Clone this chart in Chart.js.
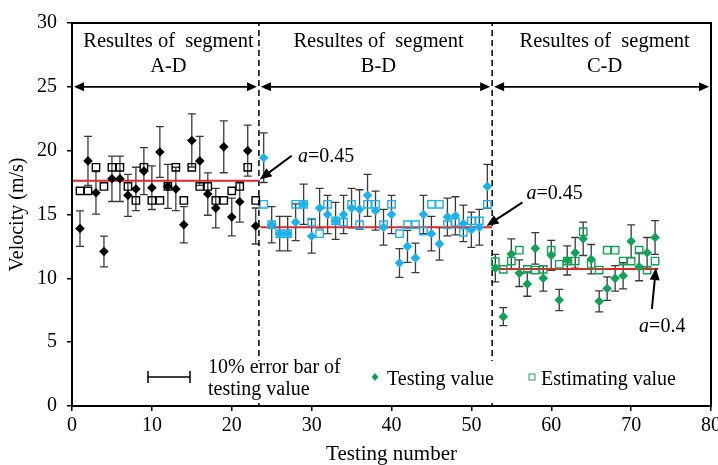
<!DOCTYPE html>
<html>
<head>
<meta charset="utf-8">
<script src="https://cdn.jsdelivr.net/npm/chart.js@4.4.0/dist/chart.umd.min.js"></script>
<style>
  html, body { margin: 0; padding: 0; background: #fff; }
</style>
</head>
<body>
<canvas id="velocity-chart" width="718" height="465"></canvas>
<script>
// segment A-D : tests 1-23
const testingA = [13.9, 19.2, 16.7, 12.1, 17.8, 17.8, 16.5, 17.0, 18.4, 17.1, 19.9, 17.2, 17.0, 14.2, 20.8, 19.2, 16.6, 15.5, 20.3, 14.8, 16.0, 20.0, 14.1];
const estimatingA = [16.85, 16.85, 18.7, 17.2, 18.7, 18.7, 17.2, 16.1, 18.7, 16.1, 16.1, 17.2, 18.7, 16.1, 18.7, 17.2, 17.2, 16.1, 16.1, 16.85, 17.2, 18.7, 16.1];
// segment B-D : tests 24-52
const testingB = [19.45, 14.2, 13.5, 13.5, 14.4, 15.8, 13.3, 15.5, 15.0, 14.5, 15.0, 15.5, 15.4, 16.5, 15.3, 14.0, 15.0, 11.2, 12.5, 11.6, 15.0, 13.5, 12.7, 14.8, 14.9, 14.3, 13.8, 14.0, 17.2];
const estimatingB = [15.8, 14.2, 13.5, 13.5, 15.8, 15.8, 14.4, 13.5, 15.8, 14.5, 14.4, 15.8, 14.2, 15.8, 15.8, 14.2, 15.8, 13.5, 14.2, 14.2, 13.7, 15.8, 15.8, 14.2, 14.4, 13.6, 14.5, 14.5, 15.8];
// segment C-D : tests 53-73
const testingC = [10.8, 7.0, 11.9, 10.4, 9.55, 12.35, 10.0, 11.8, 8.3, 11.4, 12.0, 13.1, 11.5, 8.2, 9.2, 10.0, 10.2, 12.9, 10.9, 12.0, 13.2];
const estimatingC = [11.3, 10.7, 11.35, 12.2, 10.7, 10.65, 10.7, 12.2, 11.1, 11.35, 11.35, 13.65, 11.1, 10.65, 12.2, 12.2, 11.35, 11.35, 12.2, 10.65, 11.35];

const segmentNames = ['A-D', 'B-D', 'C-D'];
const segmentBounds = [0, 23.4, 52.6, 80];
const meanLevels = [17.65, 14.0, 10.73];
const meanEnds = [[0, 23.4], [23.6, 52.6], [52.6, 73.4]];
const alphaLabels = ['0.45', '0.45', '0.4'];
const errorRatio = 0.1;

const xTicks = [0, 10, 20, 30, 40, 50, 60, 70, 80];
const yTicks = [0, 5, 10, 15, 20, 25, 30];

const FONT = '"Liberation Serif", "Times New Roman", serif';
const BLACK = '#000000';
const BLUE = '#1bb1ec';
const GREEN = '#10a356';
const RED = '#e3262b';

function toPoints(values, start) {
    return values.map((v, i) => ({ x: start + i, y: v }));
}

const segs = [
    { test: toPoints(testingA, 1), est: toPoints(estimatingA, 1), color: BLACK },
    { test: toPoints(testingB, 24), est: toPoints(estimatingB, 24), color: BLUE },
    { test: toPoints(testingC, 53), est: toPoints(estimatingC, 53), color: GREEN },
];

const datasets = [];
segs.forEach((s, i) => {
    datasets.push({
        label: 'Testing ' + segmentNames[i], data: s.test, isTesting: true,
        pointStyle: 'rectRot', pointRadius: 4.8, backgroundColor: s.color, borderColor: s.color,
        borderWidth: 0, order: 1
    });
    datasets.push({
        label: 'Estimating ' + segmentNames[i], data: s.est,
        pointStyle: 'rect', pointRadius: 5.2, backgroundColor: 'rgba(255,255,255,0)', borderColor: s.color,
        borderWidth: 1.4, order: 0
    });
});
meanLevels.forEach((m, i) => {
    datasets.push({
        type: 'line', label: 'mean ' + segmentNames[i],
        data: [{ x: meanEnds[i][0], y: m }, { x: meanEnds[i][1], y: m }],
        borderColor: RED, borderWidth: 2, pointRadius: 0, order: 3
    });
});
[segmentBounds[1], segmentBounds[2]].forEach((b) => {
    datasets.push({
        type: 'line', label: 'bound',
        data: [{ x: b, y: 0 }, { x: b, y: 30 }],
        borderColor: BLACK, borderWidth: 1.5, borderDash: [6, 4], pointRadius: 0, order: 4
    });
});

function arrowHead(ctx, x1, y1, x2, y2, len, half) {
    const a = Math.atan2(y2 - y1, x2 - x1);
    ctx.beginPath();
    ctx.moveTo(x2, y2);
    ctx.lineTo(x2 - len * Math.cos(a) + half * Math.sin(a), y2 - len * Math.sin(a) - half * Math.cos(a));
    ctx.lineTo(x2 - len * Math.cos(a) - half * Math.sin(a), y2 - len * Math.sin(a) + half * Math.cos(a));
    ctx.closePath();
    ctx.fill();
}

function arrow(ctx, x1, y1, x2, y2, w, len, half) {
    const a = Math.atan2(y2 - y1, x2 - x1);
    ctx.lineWidth = w;
    ctx.beginPath();
    ctx.moveTo(x1, y1);
    ctx.lineTo(x2 - (len - 1) * Math.cos(a), y2 - (len - 1) * Math.sin(a));
    ctx.stroke();
    arrowHead(ctx, x1, y1, x2, y2, len, half);
}

function alphaText(ctx, x, y, value) {
    ctx.textBaseline = 'alphabetic';
    ctx.textAlign = 'left';
    ctx.font = 'italic 20px ' + FONT;
    ctx.fillText('a', x, y);
    const w = ctx.measureText('a').width;
    ctx.font = '20px ' + FONT;
    ctx.fillText('=' + value, x + w, y);
}

const decorPlugin = {
    id: 'decor',
    beforeDatasetsDraw(chart) {
        const { ctx, scales: { x, y } } = chart;
        ctx.save();
        ctx.strokeStyle = '#3a3a3a';
        ctx.lineWidth = 1.3;
        chart.data.datasets.forEach((ds) => {
            if (!ds.isTesting) return;
            ds.data.forEach((p) => {
                const px = x.getPixelForValue(p.x);
                const top = y.getPixelForValue(p.y * (1 + errorRatio));
                const bot = y.getPixelForValue(p.y * (1 - errorRatio));
                ctx.beginPath();
                ctx.moveTo(px, top); ctx.lineTo(px, bot);
                ctx.moveTo(px - 4, top); ctx.lineTo(px + 4, top);
                ctx.moveTo(px - 4, bot); ctx.lineTo(px + 4, bot);
                ctx.stroke();
            });
        });
        ctx.restore();
    },
    afterDatasetsDraw(chart) {
        const { ctx, chartArea: area, scales: { x, y } } = chart;
        ctx.save();

        // legend box (white, hides the dashed bounds)
        const ly = area.bottom - 29;
        ctx.fillStyle = '#ffffff';
        ctx.fillRect(area.left + 66, ly - 16, area.right - area.left - 90, 42);

        // frame
        ctx.strokeStyle = BLACK;
        ctx.lineWidth = 2;
        ctx.strokeRect(area.left, area.top, area.right - area.left, area.bottom - area.top);

        // segment spans and titles
        ctx.fillStyle = BLACK;
        ctx.strokeStyle = BLACK;
        const ay = y.getPixelForValue(25);
        for (let i = 0; i < 3; i++) {
            const x1 = x.getPixelForValue(segmentBounds[i]) + 2;
            const x2 = x.getPixelForValue(segmentBounds[i + 1]) - 2;
            ctx.lineWidth = 1.8;
            ctx.beginPath();
            ctx.moveTo(x1 + 6, ay); ctx.lineTo(x2 - 6, ay);
            ctx.stroke();
            arrowHead(ctx, x2, ay, x1, ay, 10, 4.5);
            arrowHead(ctx, x1, ay, x2, ay, 10, 4.5);
            const cx = (x.getPixelForValue(segmentBounds[i]) + x.getPixelForValue(segmentBounds[i + 1])) / 2;
            ctx.font = '20.5px ' + FONT;
            ctx.textAlign = 'center';
            ctx.textBaseline = 'middle';
            ctx.fillText('Resultes of  segment', cx + 3, y.getPixelForValue(28.55));
            ctx.fillText(segmentNames[i], cx + 3, y.getPixelForValue(26.6));
        }

        // alpha annotations
        const notes = [
            { tx: 28.3, ty: 19.1, from: [27.5, 19.6], to: [23.5, 17.75] },
            { tx: 56.9, ty: 16.2, from: [56.4, 15.95], to: [51.9, 14.1] },
            { tx: 71.0, ty: 5.8, from: [72.6, 7.6], to: [73.1, 10.8] },
        ];
        notes.forEach((n, i) => {
            arrow(ctx, x.getPixelForValue(n.from[0]), y.getPixelForValue(n.from[1]),
                x.getPixelForValue(n.to[0]), y.getPixelForValue(n.to[1]), 2, 12, 5);
            alphaText(ctx, x.getPixelForValue(n.tx), y.getPixelForValue(n.ty), alphaLabels[i]);
        });

        // legend
        ctx.strokeStyle = BLACK;
        ctx.lineWidth = 1.5;
        ctx.beginPath();
        ctx.moveTo(area.left + 76, ly); ctx.lineTo(area.left + 118, ly);
        ctx.moveTo(area.left + 76, ly - 6); ctx.lineTo(area.left + 76, ly + 6);
        ctx.moveTo(area.left + 118, ly - 6); ctx.lineTo(area.left + 118, ly + 6);
        ctx.stroke();
        ctx.font = '20px ' + FONT;
        ctx.textAlign = 'left';
        ctx.textBaseline = 'alphabetic';
        ctx.fillText('10% error bar of', area.left + 136, ly - 4);
        ctx.fillText('testing value', area.left + 136, ly + 18);

        const dx = area.left + 303;
        ctx.fillStyle = GREEN;
        ctx.beginPath();
        ctx.moveTo(dx, ly - 4); ctx.lineTo(dx + 3.5, ly); ctx.lineTo(dx, ly + 4); ctx.lineTo(dx - 3.5, ly);
        ctx.closePath();
        ctx.fill();
        ctx.fillStyle = BLACK;
        ctx.fillText('Testing value', dx + 12, ly + 8);

        const sx = area.left + 460;
        ctx.strokeStyle = GREEN;
        ctx.lineWidth = 1;
        ctx.strokeRect(sx - 3, ly - 3, 6, 6);
        ctx.fillText('Estimating value', sx + 9, ly + 8);
        ctx.restore();
    }
};

const velocityChart = new Chart(document.getElementById('velocity-chart'), {
    type: 'scatter',
    data: { datasets: datasets },
    options: {
        responsive: false,
        animation: false,
        devicePixelRatio: 1,
        layout: { padding: { top: 23, right: 7, left: 0, bottom: 0 } },
        plugins: { legend: { display: false }, tooltip: { enabled: false } },
        scales: {
            x: {
                type: 'linear', min: 0, max: 80,
                afterBuildTicks: (s) => { s.ticks = xTicks.map((v) => ({ value: v })); },
                afterFit: (s) => { s.height = 59; s.paddingLeft = 0; s.paddingRight = 0; },
                ticks: { color: BLACK, font: { family: FONT, size: 20 }, padding: 3, maxRotation: 0 },
                grid: { drawOnChartArea: false, drawTicks: true, tickLength: 5, color: BLACK, lineWidth: 1.5 },
                border: { display: true, color: BLACK, width: 2 },
                title: { display: true, text: 'Testing number', color: BLACK, font: { family: FONT, size: 21, lineHeight: 1 }, padding: { top: -1, bottom: 0 } }
            },
            y: {
                type: 'linear', min: 0, max: 30,
                afterBuildTicks: (s) => { s.ticks = yTicks.map((v) => ({ value: v })); },
                afterFit: (s) => { s.width = 72; s.paddingTop = 0; s.paddingBottom = 0; },
                ticks: { color: BLACK, font: { family: FONT, size: 20 }, padding: 10 },
                grid: { drawOnChartArea: false, drawTicks: true, tickLength: 5, color: BLACK, lineWidth: 1.5 },
                border: { display: true, color: BLACK, width: 2 },
                title: { display: true, text: 'Velocity (m/s)', color: BLACK, font: { family: FONT, size: 20, lineHeight: 1 }, padding: { top: 8, bottom: 0 } }
            }
        }
    },
    plugins: [decorPlugin]
});
</script>
</body>
</html>
